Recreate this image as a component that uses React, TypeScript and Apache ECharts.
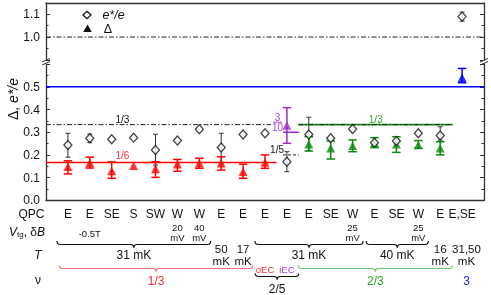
import React, { useEffect, useRef } from 'react';
import * as echarts from 'echarts';

// ---------- data ----------
const qpc = ['E', 'E', 'SE', 'S', 'SW', 'W', 'W', 'E', 'E', 'E', 'E', 'E', 'SE', 'W', 'E', 'SE', 'W', 'E', 'E,SE'];
const eStar = [0.244, 0.273, 0.269, 0.276, 0.222, 0.263, 0.313, 0.233, 0.29, 0.295, 0.17, 0.29, 0.273, 0.314, 0.254, 0.261, 0.295, 0.285, 1.09];
const eStarLo = [0.19, 0.254, null, null, 0.155, null, null, 0.165, null, null, 0.126, 0.22, null, null, null, null, null, 0.265, 1.07];
const eStarHi = [0.295, 0.292, null, null, 0.291, null, null, 0.295, null, null, 0.214, 0.366, null, null, null, null, null, 0.324, 1.11];
const delta = [0.148, 0.164, 0.129, 0.152, 0.138, 0.159, 0.163, 0.163, 0.126, 0.166, 0.329, 0.247, 0.229, 0.24, 0.252, 0.247, 0.244, 0.229, 0.54];
const deltaLo = [0.116, 0.142, 0.097, null, 0.101, 0.128, 0.141, 0.133, 0.097, 0.141, 0.251, 0.217, 0.182, 0.214, 0.232, 0.211, 0.229, 0.2, 0.518];
const deltaHi = [0.174, 0.19, 0.169, null, 0.17, 0.18, 0.185, 0.192, 0.159, 0.2, 0.408, 0.28, 0.261, 0.266, 0.276, 0.28, 0.263, 0.258, 0.581];
const deltaEdge = ['1/3', '1/3', '1/3', '1/3', '1/3', '1/3', '1/3', '1/3', '1/3', 'oEC', 'iEC', '2/3', '2/3', '2/3', '2/3', '2/3', '2/3', '2/3', '3'];

// reference levels: [value, xFrom, xTo, styleKey]
const refLevels: [number, number, number, string][] = [
  [1.0, 0, 20, 'dashdot'],
  [0.5, 0, 20, 'blue'],
  [1 / 3, 0, 10.27, 'dashdot'],
  [1 / 6, 0, 10.53, 'red'],
  [0.3, 10.82, 11.55, 'purple'],
  [0.2, 10.82, 11.55, 'dashed'],
  [1 / 3, 11.52, 18.57, 'green'],
  [1 / 3, 11.52, 18.57, 'dashdot'],
];
// labels on levels: [x, value, text, styleKey]
const levelLabels: [number, number, string, string][] = [
  [3.49, 1 / 3, '1/3', 'black'],
  [3.49, 1 / 6, '1/6', 'red'],
  [15.05, 1 / 3, '1/3', 'green'],
  [10.55, 0.2, '1/5', 'black'],
];

// bottom table
const vtgCats = [2, 6, 7, 14, 17];
const vtgTexts = [['-0.5T'], ['20', 'mV'], ['40', 'mV'], ['25', 'mV'], ['25', 'mV']];
const tempGroups: [number, number, string][] = [
  [0.5, 7.52, '31 mK'],
  [9.54, 14.48, '31 mK'],
  [14.62, 17.46, '40 mK'],
];
const tempSingleCats = [8, 9, 18, 19.2];
const tempSingleTexts = [['50', 'mK'], ['17', 'mK'], ['16', 'mK'], ['31,50', 'mK']];
const nuGroups: [number, number, string, string][] = [
  [0.6, 9.45, '1/3', 'red'],
  [11.52, 18.56, '2/3', 'green'],
];
const nuSub: [number, string, string][] = [
  [10.0, 'oEC', 'red'],
  [11.0, 'iEC', 'purple'],
];
const nu25: [number, number, string] = [9.55, 11.55, '2/5'];
const nuThree: [number, string] = [19.2, '3'];

// ---------- styles ----------
const FONT = '"Liberation Sans", Arial, Helvetica, sans-serif';
const C: Record<string, string> = {
  black: '#111',
  red: '#ff0000',
  purple: '#9e2cc8',
  green: '#0b8a0b',
  blue: '#0000ff',
};
const TEXTC: Record<string, string> = {
  black: '#111',
  red: '#ff3030',
  purple: '#b040e0',
  green: '#2ea52e',
  blue: '#1a1aff',
};
const BRACEC: Record<string, string> = {
  black: '#111',
  red: '#ff7070',
  green: '#6cc46c',
};
const edgeColor: Record<string, string> = { '1/3': 'red', oEC: 'red', iEC: 'purple', '2/3': 'green', '3': 'blue' };
const lineStyles: Record<string, any> = {
  dashdot: { color: '#222', width: 1, type: [5, 2, 1.5, 2] },
  blue: { color: C.blue, width: 1.6, type: 'solid' },
  red: { color: C.red, width: 1.6, type: 'solid' },
  purple: { color: C.purple, width: 1.6, type: 'solid' },
  green: { color: '#1a9a1a', width: 1.6, type: 'solid' },
  dashed: { color: '#222', width: 1, type: [3, 2] },
};

const UPPER_SPLIT = 0.8;

function errSeries(pts: number[][], color: string, cap: number, lw: number, upper: boolean) {
  return {
    type: 'custom',
    xAxisIndex: upper ? 0 : 1,
    yAxisIndex: upper ? 0 : 2,
    silent: true,
    z: 3,
    data: pts,
    encode: { x: 0, y: [1, 2] },
    renderItem: (params: any, api: any) => {
      const x = api.value(0);
      const lo = api.coord([x, api.value(1)]);
      const hi = api.coord([x, api.value(2)]);
      const h = cap / 2;
      const st = { stroke: color, lineWidth: lw };
      return {
        type: 'group',
        children: [
          { type: 'line', shape: { x1: lo[0], y1: lo[1], x2: hi[0], y2: hi[1] }, style: st },
          { type: 'line', shape: { x1: lo[0] - h, y1: lo[1], x2: lo[0] + h, y2: lo[1] }, style: st },
          { type: 'line', shape: { x1: hi[0] - h, y1: hi[1], x2: hi[0] + h, y2: hi[1] }, style: st },
        ],
      };
    },
  };
}

function brace(x1: number, x2: number, y: number, color: string, hook = 3.5, tip = 3) {
  const xm = (x1 + x2) / 2;
  const pts = [
    [x1, y - hook], [x1 + 0.4, y - 1.6], [x1 + 1.3, y - 0.5], [x1 + 3, y],
    [xm - 3, y], [xm - 1.3, y + 0.5], [xm - 0.4, y + 1.4], [xm, y + tip],
    [xm + 0.4, y + 1.4], [xm + 1.3, y + 0.5], [xm + 3, y],
    [x2 - 3, y], [x2 - 1.3, y - 0.5], [x2 - 0.4, y - 1.6], [x2, y - hook],
  ];
  return { type: 'polyline', silent: true, shape: { points: pts }, style: { stroke: color, lineWidth: 1.2, fill: null } };
}

function txt(x: number, y: number, text: string, color: string, size: number, extra: any = {}) {
  return {
    type: 'text',
    x,
    y,
    silent: true,
    style: {
      text,
      fill: color,
      fontSize: size,
      fontFamily: FONT,
      align: 'center',
      verticalAlign: 'middle',
      textAlign: 'center',
      textVerticalAlign: 'middle',
      ...extra,
    },
  };
}

export default function App() {
  const ref = useRef<HTMLDivElement>(null);
  useEffect(() => {
    const chart = echarts.init(ref.current!, null, { renderer: 'svg' });
    const axisLine = { show: true, lineStyle: { color: '#333', width: 1.3 } };
    const yCommon = (min: number, max: number, right: boolean, labelFn: any) => ({
      type: 'value',
      min,
      max,
      interval: 0.1,
      position: right ? 'right' : 'left',
      axisLine,
      splitLine: { show: false },
      axisTick: { show: true, inside: true, length: 4, lineStyle: { color: '#333' } },
      minorTick: { show: true, splitNumber: 2, length: 2.5, lineStyle: { color: '#333' } },
      axisLabel: right
        ? { show: false }
        : { show: true, formatter: labelFn, fontSize: 12, color: '#111', fontFamily: FONT, margin: 6 },
    });

    const series: any[] = [];
    refLevels.forEach(([v, x0, x1, key]) => {
      const upper = v >= UPPER_SPLIT;
      series.push({
        type: 'line',
        xAxisIndex: upper ? 0 : 1,
        yAxisIndex: upper ? 0 : 2,
        data: [[x0, v], [x1, v]],
        symbol: 'none',
        silent: true,
        z: 2,
        lineStyle: lineStyles[key],
      });
    });

    // e*/e error bars + diamonds
    [false, true].forEach((upper) => {
      const eb: number[][] = [];
      const pts: number[][] = [];
      eStar.forEach((v, i) => {
        if ((v >= UPPER_SPLIT) !== upper) return;
        pts.push([i + 1, v]);
        if (eStarLo[i] != null) eb.push([i + 1, eStarLo[i] as number, eStarHi[i] as number]);
      });
      series.push(errSeries(eb, '#333', 5, 1, upper));
      series.push({
        type: 'scatter',
        xAxisIndex: upper ? 0 : 1,
        yAxisIndex: upper ? 0 : 2,
        data: pts,
        symbol: 'diamond',
        symbolSize: [8, 9],
        z: 6,
        itemStyle: { color: '#fff', borderColor: '#111', borderWidth: 1.3 },
      });
    });

    // delta error bars + triangles by colour
    ['red', 'purple', 'green', 'blue'].forEach((ck) => {
      const eb: number[][] = [];
      const pts: number[][] = [];
      delta.forEach((v, i) => {
        if (edgeColor[deltaEdge[i]] !== ck) return;
        pts.push([i + 1, v]);
        if (deltaLo[i] != null) eb.push([i + 1, deltaLo[i] as number, deltaHi[i] as number]);
      });
      series.push(errSeries(eb, C[ck], 8.5, 1.5, false));
      series.push({
        type: 'scatter',
        xAxisIndex: 1,
        yAxisIndex: 2,
        data: pts,
        symbol: 'triangle',
        symbolSize: [9, 8.5],
        z: 5,
        itemStyle: { color: C[ck] },
      });
    });

    const option: any = {
      animation: false,
      grid: [
        { left: 46, right: 7, top: 3, height: 56.75 },
        { left: 46, right: 7, top: 64.1, height: 136.2 },
      ],
      xAxis: [
        {
          gridIndex: 0, type: 'value', min: 0, max: 20, position: 'top',
          axisLine, axisTick: { show: false }, axisLabel: { show: false }, splitLine: { show: false },
        },
        {
          gridIndex: 1, type: 'value', min: 0, max: 20, interval: 1, position: 'bottom',
          axisLine, axisTick: { show: false }, splitLine: { show: false },
          axisLabel: {
            show: true, showMinLabel: true, showMaxLabel: true, margin: 8, fontSize: 12, color: '#111', fontFamily: FONT,
            formatter: (v: number) => qpc[Math.round(v) - 1] ?? '',
          },
        },
      ],
      yAxis: [
        { gridIndex: 0, ...yCommon(0.9, 1.15, false, (v: number) => (Math.abs(v - 1) < 1e-6 || Math.abs(v - 1.1) < 1e-6 ? v.toFixed(1) : '')) },
        { gridIndex: 0, ...yCommon(0.9, 1.15, true, null) },
        { gridIndex: 1, ...yCommon(0, 0.6, false, (v: number) => (v < 0.55 ? v.toFixed(1) : '')) },
        { gridIndex: 1, ...yCommon(0, 0.6, true, null) },
      ],
      series,
    };
    chart.setOption(option);

    const xp = (v: number) => chart.convertToPixel({ xAxisIndex: 1 }, v) as unknown as number;
    const yl = (v: number) => chart.convertToPixel({ yAxisIndex: 2 }, v) as unknown as number;
    const g: any[] = [];

    // break marks
    const xl = xp(0), xr = xp(20);
    [xl, xr].forEach((x) => {
      g.push({ type: 'polygon', silent: true, shape: { points: [[x - 4, 62], [x + 4, 58.5], [x + 4, 61.5], [x - 4, 65]] }, style: { fill: '#fff' } });
      g.push({ type: 'line', silent: true, shape: { x1: x - 4, y1: 62, x2: x + 4, y2: 58.5 }, style: { stroke: '#333', lineWidth: 1 } });
      g.push({ type: 'line', silent: true, shape: { x1: x - 4, y1: 65, x2: x + 4, y2: 61.5 }, style: { stroke: '#333', lineWidth: 1 } });
    });

    // legend
    g.push({ type: 'polygon', silent: true, shape: { points: [[87, 11.3], [91, 15], [87, 18.7], [83, 15]] }, style: { fill: '#fff', stroke: '#111', lineWidth: 1.3 } });
    g.push({ type: 'polygon', silent: true, shape: { points: [[87.5, 24.5], [91.8, 32], [83.2, 32]] }, style: { fill: '#111' } });
    g.push(txt(113.5, 14.5, 'e*/e', '#111', 12.5, { fontStyle: 'italic' }));
    g.push(txt(108, 28.5, 'Δ', '#111', 12.5));

    // y axis name
    g.push({
      type: 'text', x: 13, y: 99, rotation: Math.PI / 2, silent: true,
      style: {
        text: '{n|Δ, }{i|e*/e}', align: 'center', verticalAlign: 'middle', textAlign: 'center', textVerticalAlign: 'middle',
        rich: {
          n: { fontSize: 14, fontFamily: FONT, fill: '#111', color: '#111' },
          i: { fontSize: 14, fontFamily: FONT, fontStyle: 'italic', fill: '#111', color: '#111' },
        },
      },
    });

    // labels on levels
    levelLabels.forEach(([x, v, t, k]) => {
      g.push(txt(xp(x), yl(v) - (t === '1/6' ? 7 : 5.5), t, TEXTC[k], 10));
    });
    // 3/10 fraction
    const fx = xp(10.57);
    const fy = yl(0.3);
    g.push(txt(fx, fy - 15, '3', TEXTC.purple, 10));
    g.push({ type: 'line', silent: true, shape: { x1: fx - 4.5, y1: fy - 10, x2: fx + 4.5, y2: fy - 10 }, style: { stroke: TEXTC.purple, lineWidth: 1 } });
    g.push(txt(fx, fy - 4.5, '10', TEXTC.purple, 10));

    // bottom table row labels
    g.push(txt(31.5, 214, 'QPC', '#111', 12));
    g.push({
      type: 'text', x: 45, y: 232, silent: true,
      style: {
        text: '{v|V}{s|tg}{n|, δ}{v|B}', align: 'right', verticalAlign: 'middle', textAlign: 'right', textVerticalAlign: 'middle',
        rich: {
          v: { fontSize: 12, fontFamily: FONT, fontStyle: 'italic', fill: '#111', color: '#111' },
          s: { fontSize: 8, fontFamily: FONT, fill: '#111', color: '#111', verticalAlign: 'bottom', padding: [5, 0, 0, 0] },
          n: { fontSize: 12, fontFamily: FONT, fill: '#111', color: '#111' },
        },
      },
    });
    g.push(txt(38, 255, 'T', '#111', 12, { fontStyle: 'italic' }));
    g.push(txt(38, 280, 'ν', '#111', 12));

    // Vtg row
    vtgCats.forEach((c, i) => {
      const t = vtgTexts[i];
      if (t.length === 1) g.push(txt(xp(c), 233, t[0], '#111', 9.5));
      else {
        g.push(txt(xp(c), 227, t[0], '#111', 9.5));
        g.push(txt(xp(c), 237, t[1], '#111', 9.5));
      }
    });
    // T row
    tempGroups.forEach(([a, b, t]) => {
      g.push(brace(xp(a), xp(b), 244.5, BRACEC.black));
      g.push(txt(xp((a + b) / 2), 254.5, t, '#111', 12));
    });
    tempSingleCats.forEach((c, i) => {
      g.push(txt(xp(c), 249, tempSingleTexts[i][0], '#111', 11.5));
      g.push(txt(xp(c), 260.5, tempSingleTexts[i][1], '#111', 11.5));
    });
    // nu row
    nuGroups.forEach(([a, b, t, k]) => {
      g.push(brace(xp(a), xp(b), 268.5, BRACEC[k], 3, 3));
      g.push(txt(xp((a + b) / 2), 280.5, t, TEXTC[k], 12));
    });
    nuSub.forEach(([c, t, k]) => g.push(txt(xp(c), 269, t, TEXTC[k], 9.5)));
    g.push(brace(xp(nu25[0]), xp(nu25[1]), 276.5, BRACEC.black, 3, 3));
    g.push(txt(xp((nu25[0] + nu25[1]) / 2), 288.5, nu25[2], '#111', 12));
    g.push(txt(xp(nuThree[0]), 280.5, nuThree[1], TEXTC.blue, 12));

    chart.setOption({ graphic: { elements: g } });
    return () => chart.dispose();
  }, []);
  return <div ref={ref} style={{ position: 'fixed', left: 0, top: 0, width: 491, height: 295 }} />;
}
